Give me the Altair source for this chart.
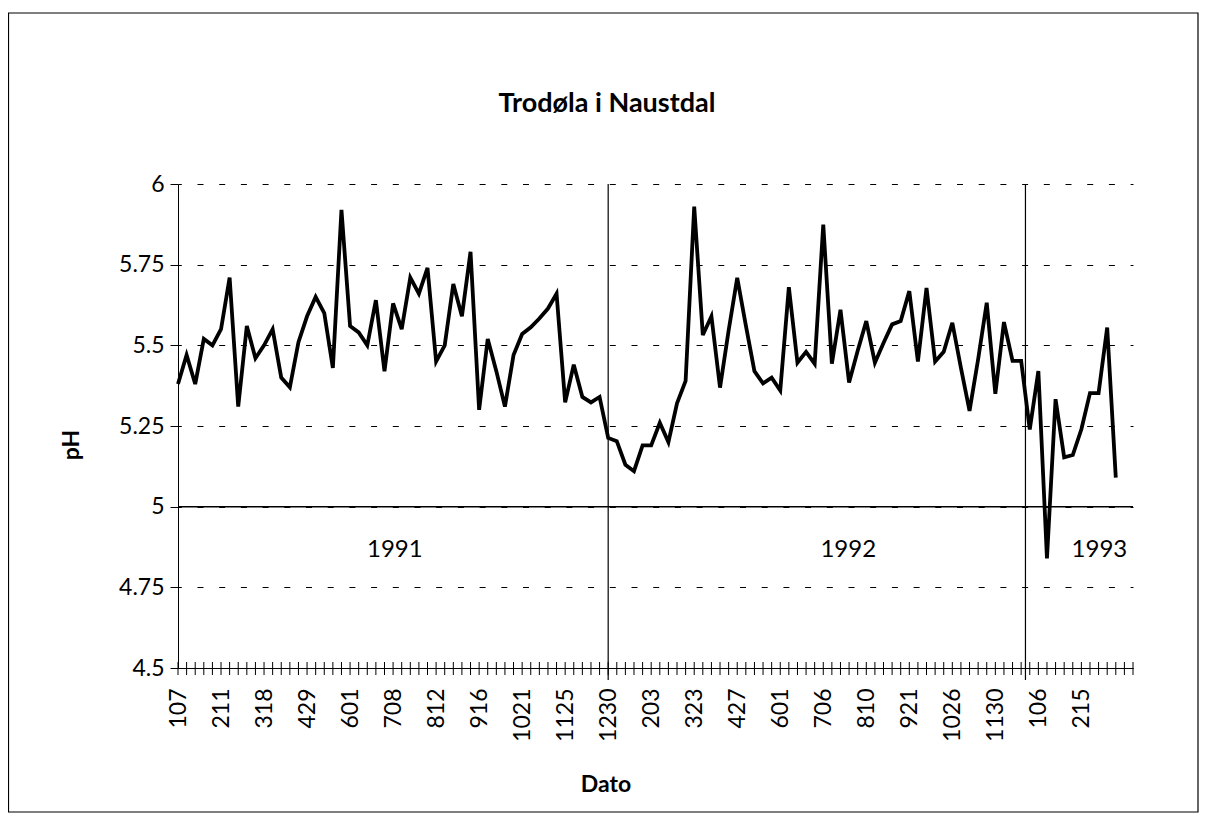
import altair as alt
import pandas as pd

# pH readings, in sampling order (weekly, 1991-1993)
ph = [5.38, 5.47, 5.38, 5.52, 5.50, 5.55, 5.71, 5.31, 5.56, 5.46,
      5.50, 5.55, 5.40, 5.37, 5.51, 5.59, 5.65, 5.60, 5.43, 5.92,
      5.56, 5.54, 5.50, 5.64, 5.42, 5.63, 5.55, 5.71, 5.66, 5.74,
      5.45, 5.50, 5.69, 5.59, 5.79, 5.30, 5.52, 5.42, 5.31, 5.47,
      5.535, 5.556, 5.583, 5.614, 5.66, 5.323, 5.44, 5.34, 5.323, 5.34,
      5.213, 5.203, 5.13, 5.11, 5.19, 5.19, 5.26, 5.20, 5.32, 5.39,
      5.93, 5.532, 5.59, 5.369, 5.546, 5.709, 5.562, 5.42, 5.382, 5.40,
      5.36, 5.68, 5.446, 5.48, 5.443, 5.874, 5.443, 5.61, 5.385, 5.483,
      5.575, 5.446, 5.507, 5.565, 5.575, 5.668, 5.45, 5.678, 5.45, 5.48,
      5.57, 5.43, 5.297, 5.457, 5.632, 5.35, 5.572, 5.452, 5.452, 5.239,
      5.42, 4.84, 5.333, 5.153, 5.16, 5.24, 5.352, 5.352, 5.555, 5.09]

# labelled dates (every fifth category)
date_labels = ["107", "211", "318", "429", "601", "708", "812", "916", "1021", "1125",
               "1230", "203", "323", "427", "601", "706", "810", "921", "1026", "1130",
               "106", "215"]
n_categories = 112

# year separators (category position) and year labels
year_breaks = [50, 98.5]
years = ["1991", "1992", "1993"]
year_pos = [25.2, 77.9, 107.1]
year_y = [4.865, 4.865, 4.865]

y_ticks = [4.5, 4.75, 5.0, 5.25, 5.5, 5.75, 6.0]

FONT = "Lato"

df = pd.DataFrame({"i": list(range(len(ph))), "ph": ph})
ticks_df = pd.DataFrame({"i": list(range(n_categories))})
breaks_df = pd.DataFrame({"x": year_breaks})
years_df = pd.DataFrame({"x": year_pos, "y": year_y, "t": years})
one = pd.DataFrame({"a": [0]})

label_arr = "[" + ",".join("'%s'" % s for s in date_labels) + "]"

xscale = alt.Scale(domain=[0, n_categories - 1], nice=False, zero=False)
yscale = alt.Scale(domain=[4.5, 6.0], nice=False, zero=False)

xaxis = alt.Axis(
    values=[k * 5 for k in range(len(date_labels))],
    labelExpr=label_arr + "[round(datum.value / 5)]",
    labelAngle=270, labelAlign="right", labelBaseline="middle",
    labelPadding=20, ticks=False, grid=False, title=None,
    labelFont=FONT, labelFontSize=23, labelColor="black",
    domainColor="black", domainWidth=1, labelOverlap=False,
)
yaxis = alt.Axis(
    values=y_ticks, format=".2~f", title=None,
    labelFont=FONT, labelFontSize=23, labelColor="black", labelPadding=6,
    tickSize=8, tickColor="black", domainColor="black", domainWidth=1,
    grid=True, gridColor="black", gridDash=[6, 15.7], gridDashOffset=2.7,
    gridWidth=1, gridOpacity=1,
)

line = alt.Chart(df).mark_line(color="black", strokeWidth=3.8).encode(
    x=alt.X("i:Q", scale=xscale, axis=xaxis),
    y=alt.Y("ph:Q", scale=yscale, axis=yaxis),
)

ticks = alt.Chart(ticks_df).mark_rule(color="black", strokeWidth=1).encode(
    x=alt.X("i:Q", scale=xscale),
    y=alt.value(478), y2=alt.value(491),
)

five = alt.Chart(one).mark_rule(color="black", strokeWidth=1.5).encode(
    y=alt.datum(5.0, scale=yscale), x=alt.value(0), x2=alt.value(955),
)

breaks = alt.Chart(breaks_df).mark_rule(color="black", strokeWidth=1.2).encode(
    x=alt.X("x:Q", scale=xscale), y=alt.value(0), y2=alt.value(496),
)

year_text = alt.Chart(years_df).mark_text(
    font=FONT, fontSize=24, color="black", baseline="middle", align="center"
).encode(x=alt.X("x:Q", scale=xscale), y=alt.Y("y:Q", scale=yscale), text="t:N")

title = alt.Chart(one).mark_text(
    text="Trodøla i Naustdal", font=FONT, fontSize=27, fontWeight="bold",
    color="black", align="center", baseline="middle",
).encode(x=alt.value(429), y=alt.value(-80))

ytitle = alt.Chart(one).mark_text(
    text="pH", font=FONT, fontSize=23, fontWeight="bold", angle=270,
    color="black", align="center", baseline="middle",
).encode(x=alt.value(-106), y=alt.value(261))

xtitle = alt.Chart(one).mark_text(
    text="Dato", font=FONT, fontSize=23, fontWeight="bold",
    color="black", align="center", baseline="middle",
).encode(x=alt.value(428), y=alt.value(601))

frame = alt.Chart(one).mark_rect(filled=False, stroke="black", strokeWidth=1.2).encode(
    x=alt.value(-169.5), x2=alt.value(1020), y=alt.value(-171), y2=alt.value(628),
)

chart = alt.layer(
    frame, five, breaks, ticks, line, year_text, title, ytitle, xtitle
).properties(
    width=955, height=484,
    padding={"left": 170, "top": 176, "right": 66, "bottom": 145},
    autosize=alt.AutoSizeParams(type="none"),
    background="white",
).configure_view(stroke=None)

chart.save("out.html", embed_options={"renderer": "svg", "actions": False})
